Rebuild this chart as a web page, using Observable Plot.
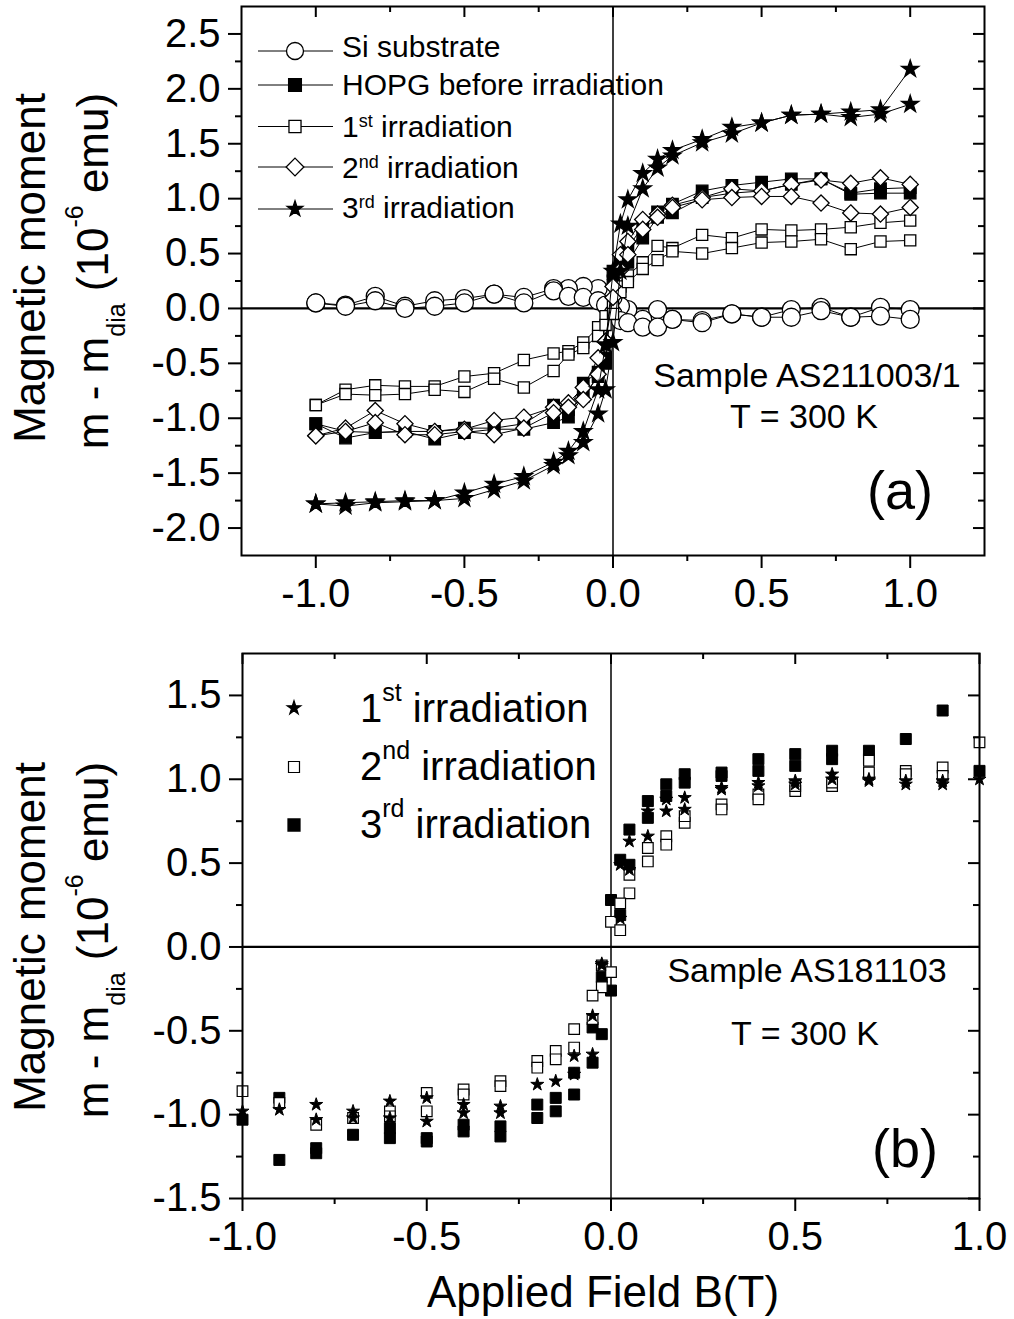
<!DOCTYPE html>
<html><head><meta charset="utf-8">
<script src="https://cdn.jsdelivr.net/npm/d3@7"></script>
<script src="https://cdn.jsdelivr.net/npm/@observablehq/plot@0.6"></script>
<style>
body{margin:0;background:#fff;}
#chart{width:1014px;}
#chart svg{display:block;}
</style></head><body><div id="chart"></div>
<script>
const FONT = "Liberation Sans, Arial, Helvetica, sans-serif";

// ---------- Panel (a): hysteresis loops (field swept 1 -> -1, then -1 -> 1) ----------
const fieldDown = [1,0.9,0.8,0.7,0.6,0.5,0.4,0.3,0.2,0.15,0.1,0.05,0.025,0,-0.025,-0.05,-0.1,-0.15,-0.2,-0.3,-0.4,-0.5,-0.6,-0.7,-0.8,-0.9,-1];
const fieldUp = fieldDown.slice().reverse();

const siDown   = [-0.01,0.01,-0.08,0.01,-0.01,-0.08,-0.05,-0.11,-0.10,-0.01,-0.10,-0.01,0.02,0.10,0.14,0.18,0.20,0.18,0.18,0.10,0.13,0.09,0.07,0.02,0.11,0.03,0.05];
const siUp     = [0.05,0.02,0.07,0.00,0.02,0.05,0.13,0.05,0.16,0.11,0.10,0.07,0.03,-0.05,-0.11,-0.13,-0.17,-0.17,-0.10,-0.13,-0.05,-0.08,-0.08,-0.02,-0.08,-0.07,-0.10];
const hopgDown = [1.10,1.09,1.05,1.18,1.18,1.15,1.12,1.07,0.95,0.88,0.75,0.55,0.42,0.34,-0.45,-0.58,-0.68,-0.92,-0.88,-1.05,-1.09,-1.09,-1.12,-1.12,-1.13,-1.12,-1.05];
const hopgUp   = [-1.05,-1.18,-1.13,-1.12,-1.19,-1.13,-1.10,-1.10,-1.04,-0.99,-0.80,-0.62,-0.50,0.25,0.40,0.42,0.64,0.83,0.87,1.01,1.05,1.07,1.13,1.18,1.04,1.05,1.05];
const irr1Down = [0.80,0.78,0.74,0.72,0.71,0.72,0.64,0.67,0.55,0.57,0.42,0.30,0.20,0.05,-0.07,-0.17,-0.31,-0.39,-0.41,-0.47,-0.59,-0.62,-0.71,-0.71,-0.70,-0.74,-0.88];
const irr1Up   = [-0.88,-0.78,-0.79,-0.78,-0.74,-0.76,-0.64,-0.72,-0.57,-0.42,-0.36,-0.25,-0.15,-0.05,0.15,0.24,0.36,0.44,0.52,0.50,0.55,0.60,0.61,0.63,0.54,0.61,0.62];
const irr2Down = [1.13,1.19,1.14,1.17,1.13,1.07,1.09,1.01,0.94,0.86,0.81,0.61,0.49,0.20,-0.30,-0.45,-0.72,-0.86,-0.90,-0.99,-1.02,-1.10,-1.12,-1.05,-0.93,-1.09,-1.16];
const irr2Up   = [-1.16,-1.12,-1.04,-1.15,-1.15,-1.12,-1.15,-1.09,-0.95,-0.90,-0.83,-0.60,-0.30,0.10,0.35,0.49,0.72,0.83,0.92,0.99,1.01,1.02,1.02,0.96,0.87,0.86,0.92];
const irr3Down = [1.86,1.77,1.74,1.77,1.76,1.69,1.65,1.54,1.44,1.36,1.23,0.99,0.77,0.34,-0.33,-0.74,-1.12,-1.30,-1.40,-1.53,-1.60,-1.68,-1.75,-1.75,-1.76,-1.77,-1.78];
const irr3Up   = [-1.78,-1.80,-1.77,-1.76,-1.75,-1.73,-1.65,-1.57,-1.43,-1.34,-1.22,-0.96,-0.74,-0.31,0.34,0.75,1.09,1.28,1.39,1.51,1.59,1.69,1.76,1.77,1.79,1.81,2.18];

const seriesNamesA = ["Si substrate","HOPG before irradiation","1st irradiation","2nd irradiation","3rd irradiation"];

// ---------- Panel (b): scatter ----------
const b1Field  = [1.0,0.9,0.9,0.8,0.8,0.7,0.7,0.6,0.6,0.5,0.5,0.4,0.4,0.3,0.3,0.2,0.2,0.15,0.15,0.1,0.1,0.05,0.05,0.025,0.025,-0.025,-0.025,-0.05,-0.05,-0.1,-0.1,-0.15,-0.2,-0.3,-0.3,-0.4,-0.4,-0.5,-0.5,-0.6,-0.6,-0.7,-0.7,-0.8,-0.8,-0.9,-1.0];
const b1Moment = [1.00,0.99,0.97,0.99,0.97,1.00,0.99,1.03,1.00,0.99,0.97,0.98,0.96,0.95,0.94,0.89,0.82,0.88,0.81,0.81,0.66,0.63,0.46,0.49,0.17,-0.11,-0.10,-0.41,-0.64,-0.65,-0.76,-0.80,-0.82,-0.95,-0.99,-0.94,-0.99,-0.90,-1.04,-0.92,-1.02,-0.98,-1.02,-0.94,-1.03,-0.97,-0.98];
const b2Field  = [1.0,0.9,0.9,0.8,0.8,0.7,0.7,0.6,0.6,0.5,0.5,0.4,0.4,0.3,0.3,0.2,0.2,0.15,0.15,0.1,0.1,0.05,0.05,0.025,0,0.025,-0.025,0,-0.025,-0.05,-0.05,-0.1,-0.1,-0.15,-0.15,-0.2,-0.2,-0.3,-0.3,-0.4,-0.4,-0.5,-0.5,-0.6,-0.6,-0.7,-0.8,-0.9,-1.0];
const b2Moment = [1.22,1.07,1.02,1.05,1.03,1.11,1.04,0.96,0.98,0.93,0.96,0.91,0.88,0.85,0.82,0.74,0.78,0.66,0.61,0.59,0.51,0.43,0.32,0.26,0.15,0.10,-0.11,-0.15,-0.24,-0.29,-0.43,-0.49,-0.60,-0.62,-0.67,-0.68,-0.72,-0.80,-0.83,-0.85,-0.88,-0.87,-0.98,-0.98,-1.01,-1.02,-1.06,-0.93,-0.86];
const b3Field  = [1.0,0.9,0.8,0.7,0.7,0.6,0.6,0.5,0.5,0.4,0.4,0.3,0.3,0.2,0.2,0.15,0.15,0.1,0.1,0.05,0.05,0.025,0,0.025,-0.025,0,-0.025,-0.05,-0.05,-0.1,-0.1,-0.15,-0.15,-0.2,-0.2,-0.3,-0.3,-0.4,-0.4,-0.5,-0.5,-0.6,-0.6,-0.7,-0.8,-0.8,-0.9,-0.9,-1.0];
const b3Moment = [1.05,1.41,1.24,1.17,1.12,1.17,1.12,1.15,1.08,1.12,1.05,1.04,1.02,1.03,0.98,0.97,0.90,0.87,0.77,0.70,0.49,0.52,0.28,0.19,-0.18,-0.26,-0.52,-0.48,-0.69,-0.75,-0.88,-0.90,-0.98,-0.94,-1.02,-1.07,-1.13,-1.06,-1.10,-1.14,-1.16,-1.08,-1.14,-1.12,-1.20,-1.23,-0.90,-1.27,-1.03];

// ---------- ticks ----------
const aXMajor = [-1,-0.5,0,0.5,1];
const aXMinor = [-0.75,-0.25,0.25,0.75];
const aYMajor = [-2,-1.5,-1,-0.5,0,0.5,1,1.5,2,2.5];
const aYMinor = [-1.75,-1.25,-0.75,-0.25,0.25,0.75,1.25,1.75,2.25];
const bXMajor = [-1,-0.5,0,0.5,1];
const bXMinor = [-0.75,-0.25,0.25,0.75];
const bYMajor = [-1.5,-1,-0.5,0,0.5,1,1.5];
const bYMinor = [-1.25,-0.75,-0.25,0.25,0.75,1.25];

const fmt = d => d.toFixed(1);

// ---------- build tables ----------
function loopRows(name, down, up) {
  return fieldDown.map((x, i) => ({series: name, branch: "down", x, y: down[i]}))
    .concat(fieldUp.map((x, i) => ({series: name, branch: "up", x, y: up[i]})));
}
const styleA = [
  {down: siDown,   up: siUp,   symbol: "circle",   fill: "white", r: 9},
  {down: hopgDown, up: hopgUp, symbol: "square",   fill: "black", r: 6.5},
  {down: irr1Down, up: irr1Up, symbol: "square",   fill: "white", r: 6.3},
  {down: irr2Down, up: irr2Up, symbol: "diamond2", fill: "white", r: 7.3},
  {down: irr3Down, up: irr3Up, symbol: "star",     fill: "black", r: 5.4}
];
const marksSeriesA = [];
styleA.forEach((s, i) => {
  const rows = loopRows(seriesNamesA[i], s.down, s.up);
  marksSeriesA.push(Plot.line(rows, {x: "x", y: "y", z: "branch", stroke: "black", strokeWidth: 1}));
  marksSeriesA.push(Plot.dot(rows, {x: "x", y: "y", symbol: s.symbol, r: s.r, fill: s.fill, stroke: "black", strokeWidth: 1.3}));
});

const rowsB = (f, m, name) => f.map((x, i) => ({series: name, x, y: m[i]}));
const b1 = rowsB(b1Field, b1Moment, "1st irradiation");
const b2 = rowsB(b2Field, b2Moment, "2nd irradiation");
const b3 = rowsB(b3Field, b3Moment, "3rd irradiation");

// ---------- geometry ----------
const W = 1014;
const A = {h: 615, ml: 241, mr: 30, mt: 6, mb: 60};
const B = {h: 704, ml: 242, mr: 35, mt: 38, mb: 121};
const pwA = W - A.ml - A.mr, phA = A.h - A.mt - A.mb;
const pwB = W - B.ml - B.mr, phB = B.h - B.mt - B.mb;

function axesMarks(xMaj, xMin, yMaj, yMin, pw, ph) {
  return [
    Plot.frame({strokeWidth: 2}),
    Plot.axisX(xMaj, {tickSize: 13, tickPadding: 10, fontSize: 40, fontFamily: FONT, tickFormat: fmt, strokeWidth: 2, label: null}),
    Plot.axisX(xMin, {tickSize: 6, tickFormat: () => "", strokeWidth: 2, label: null}),
    Plot.axisY(yMaj, {tickSize: 13, tickPadding: 8, fontSize: 40, fontFamily: FONT, tickFormat: fmt, strokeWidth: 2, label: null}),
    Plot.axisY(yMin, {tickSize: 6, tickFormat: () => "", strokeWidth: 2, label: null}),
    Plot.tickX(xMaj, {x: d => d, insetBottom: ph - 11, strokeWidth: 2}),
    Plot.tickX(xMin, {x: d => d, insetBottom: ph - 6, strokeWidth: 2}),
    Plot.tickY(yMaj, {y: d => d, insetLeft: pw - 11, strokeWidth: 2}),
    Plot.tickY(yMin, {y: d => d, insetLeft: pw - 6, strokeWidth: 2})
  ];
}

const plotA = Plot.plot({
  width: W, height: A.h,
  marginLeft: A.ml, marginRight: A.mr, marginTop: A.mt, marginBottom: A.mb,
  x: {domain: [-1.25, 1.25], label: null},
  y: {domain: [-2.25, 2.75], label: null},
  style: {fontFamily: FONT, background: "white", color: "black"},
  marks: [
    Plot.ruleY([0], {strokeWidth: 2.2}),
    Plot.ruleX([0], {strokeWidth: 1.5}),
    ...marksSeriesA,
    ...axesMarks(aXMajor, aXMinor, aYMajor, aYMinor, pwA, phA)
  ]
});

const plotB = Plot.plot({
  width: W, height: B.h,
  marginLeft: B.ml, marginRight: B.mr, marginTop: B.mt, marginBottom: B.mb,
  x: {domain: [-1, 1], label: null},
  y: {domain: [-1.5, 1.75], label: null},
  style: {fontFamily: FONT, background: "white", color: "black"},
  marks: [
    Plot.ruleY([0], {strokeWidth: 2.2}),
    Plot.ruleX([0], {strokeWidth: 1.5}),
    Plot.dot(b3, {x: "x", y: "y", symbol: "square", r: 6.2, fill: "black", stroke: "black", strokeWidth: 1}),
    Plot.dot(b2, {x: "x", y: "y", symbol: "square", r: 6, fill: "white", stroke: "black", strokeWidth: 1.2}),
    Plot.dot(b1, {x: "x", y: "y", symbol: "star", r: 4.1, fill: "black", stroke: "black", strokeWidth: 1}),
    ...axesMarks(bXMajor, bXMinor, bYMajor, bYMinor, pwB, phB)
  ]
});

const chart = document.getElementById("chart");
chart.appendChild(plotA);
chart.appendChild(plotB);

// ---------- decorations (text, legends) ----------
const symbolMap = {circle: d3.symbolCircle, square: d3.symbolSquare, diamond2: d3.symbolDiamond2, star: d3.symbolStar};
function symPath(name, r) { return d3.symbol(symbolMap[name], Math.PI * r * r)(); }

// rich text: parts = [[text, "n"|"sup"|"sub"], ...]
function richText(sel, parts, size, smallSize, supShift, subShift) {
  let offset = 0;
  parts.forEach(([t, kind]) => {
    const ts = sel.append("tspan").text(t);
    let target = 0, fs = size;
    if (kind === "sup") { target = -supShift; fs = smallSize; }
    if (kind === "sub") { target = subShift; fs = smallSize; }
    ts.attr("font-size", fs).attr("dy", target - offset);
    offset = target;
  });
}

function yLabel(svg, cy1, cy2) {
  const g = svg.append("g").attr("font-family", FONT).attr("fill", "black");
  g.append("text").attr("transform", `translate(45,${cy1}) rotate(-90)`)
    .attr("text-anchor", "middle").attr("font-size", 44).text("Magnetic moment");
  const t = g.append("text").attr("transform", `translate(108,${cy2}) rotate(-90)`)
    .attr("text-anchor", "middle").attr("font-size", 44);
  richText(t, [["m - m","n"],["dia","sub"],[" (10","n"],["-6","sup"],[" emu)","n"]], 44, 25, 25, 17);
}

// Panel (a) decorations
const sa = d3.select(plotA);
yLabel(sa, 268, 271);
const ga = sa.append("g").attr("font-family", FONT).attr("fill", "black");
const legendA = [
  {parts: [["Si substrate","n"]], sym: "circle", fill: "white", r: 8.5, cy: 51, base: 57},
  {parts: [["HOPG before irradiation","n"]], sym: "square", fill: "black", r: 7.2, cy: 85, base: 95},
  {parts: [["1","n"],["st","sup"],[" irradiation","n"]], sym: "square", fill: "white", r: 6.8, cy: 126.5, base: 137},
  {parts: [["2","n"],["nd","sup"],[" irradiation","n"]], sym: "diamond2", fill: "white", r: 8, cy: 167, base: 178},
  {parts: [["3","n"],["rd","sup"],[" irradiation","n"]], sym: "star", fill: "black", r: 4.9, cy: 209, base: 218}
];
legendA.forEach(d => {
  ga.append("line").attr("x1", 258).attr("x2", 333).attr("y1", d.cy).attr("y2", d.cy)
    .attr("stroke", "black").attr("stroke-width", 1);
  ga.append("path").attr("d", symPath(d.sym, d.r)).attr("transform", `translate(295,${d.cy})`)
    .attr("fill", d.fill).attr("stroke", "black").attr("stroke-width", 1.3);
  const t = ga.append("text").attr("x", 342).attr("y", d.base).attr("font-size", 30).attr("text-anchor", "start");
  richText(t, d.parts, 30, 18, 10, 8);
});
ga.append("text").attr("x", 807).attr("y", 387).attr("text-anchor", "middle").attr("font-size", 34).text("Sample AS211003/1");
ga.append("text").attr("x", 804).attr("y", 428).attr("text-anchor", "middle").attr("font-size", 34).text("T = 300 K");
ga.append("text").attr("x", 900).attr("y", 509).attr("text-anchor", "middle").attr("font-size", 54).text("(a)");

// Panel (b) decorations
const sb = d3.select(plotB);
yLabel(sb, 322, 325);
const gb = sb.append("g").attr("font-family", FONT).attr("fill", "black");
const legendB = [
  {parts: [["1","n"],["st","sup"],[" irradiation","n"]], sym: "star", fill: "black", r: 4.3, cy: 93, base: 107},
  {parts: [["2","n"],["nd","sup"],[" irradiation","n"]], sym: "square", fill: "white", r: 6.2, cy: 152, base: 165},
  {parts: [["3","n"],["rd","sup"],[" irradiation","n"]], sym: "square", fill: "black", r: 6.8, cy: 210, base: 223}
];
legendB.forEach(d => {
  gb.append("path").attr("d", symPath(d.sym, d.r)).attr("transform", `translate(294,${d.cy})`)
    .attr("fill", d.fill).attr("stroke", "black").attr("stroke-width", 1.2);
  const t = gb.append("text").attr("x", 360).attr("y", d.base).attr("font-size", 40).attr("text-anchor", "start");
  richText(t, d.parts, 40, 25, 21, 10);
});
gb.append("text").attr("x", 807).attr("y", 367).attr("text-anchor", "middle").attr("font-size", 34).text("Sample AS181103");
gb.append("text").attr("x", 805).attr("y", 430).attr("text-anchor", "middle").attr("font-size", 34).text("T = 300 K");
gb.append("text").attr("x", 905).attr("y", 552).attr("text-anchor", "middle").attr("font-size", 54).text("(b)");
gb.append("text").attr("x", 603).attr("y", 692).attr("text-anchor", "middle").attr("font-size", 44).text("Applied Field B(T)");
</script></body></html>
